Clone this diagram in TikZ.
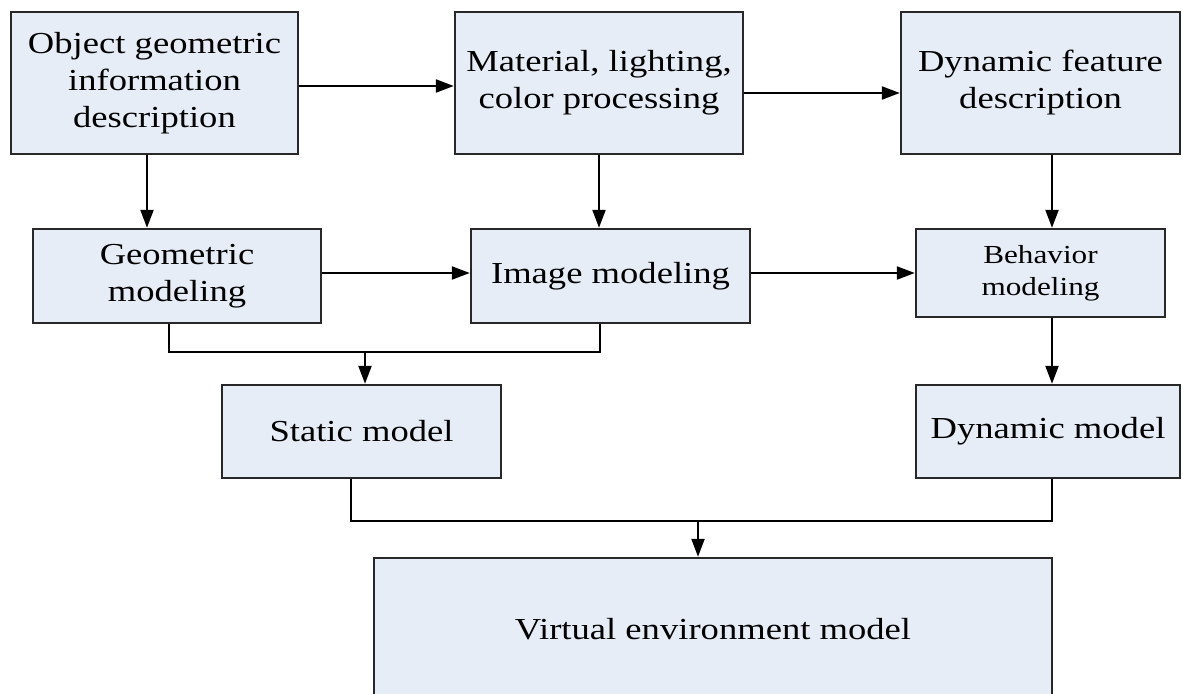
\documentclass[tikz,border=0pt]{standalone}
\usepackage{fontspec}
\setmainfont{Liberation Serif}[FakeStretch=1.2]
\usetikzlibrary{arrows.meta}
\definecolor{boxfill}{RGB}{230,237,246}
\definecolor{boxline}{RGB}{40,40,40}
\begin{document}
\begin{tikzpicture}[x=1pt,y=-1pt,
  box/.style={draw=boxline, fill=boxfill, line width=2.4pt, inner sep=0pt, align=center,
              font=\fontsize{30.5}{37}\selectfont},
  arr/.style={-{Triangle[length=18pt,width=13pt]}, line width=2.2pt, draw=black},
  ln/.style={line width=2.2pt, draw=black}]
\useasboundingbox (0,0) rectangle (1182,693);
\clip (0,0) rectangle (1182,693);
% top row
\node[box, minimum width=287pt, minimum height=142pt] (b1) at (154.5,83) {Object geometric\\information\\description};
\node[box, minimum width=288pt, minimum height=142pt] (b2) at (599,83) {Material, lighting,\\color processing};
\node[box, minimum width=279pt, minimum height=142pt] (b3) at (1040.5,83) {Dynamic feature\\description};
% second row
\node[box, minimum width=288pt, minimum height=94pt] (b4) at (177,276) {Geometric\\modeling};
\node[box, minimum width=279pt, minimum height=94pt] (b5) at (610.5,276) {Image modeling};
\node[box, minimum width=249pt, minimum height=88pt, font=\fontsize{26}{32}\selectfont] (b6) at (1040.5,273) {Behavior\\modeling};
% third row
\node[box, minimum width=279pt, minimum height=93pt] (b7) at (361.5,431.5) {Static model};
\node[box, minimum width=264pt, minimum height=93pt] (b8) at (1048,431.5) {Dynamic model};
% bottom
\node[box, minimum width=678pt, minimum height=142pt] (b9) at (713,629) {Virtual environment model};
% helper coordinates
\coordinate (xa) at (147,0);
\coordinate (xc) at (1052,0);
\coordinate (xg) at (169,0);
\coordinate (xs) at (351,0);
\coordinate (y273) at (0,273);
\coordinate (j1) at (365,352);
\coordinate (j2) at (600,352);
\coordinate (j4) at (1052,521);
\coordinate (j5) at (698,521);
% connectors
\draw[arr] ([yshift=-3pt]b1.east) -- ([yshift=-3pt]b2.west);
\draw[arr] ([yshift=-10pt]b2.east) -- ([yshift=-10pt]b3.west);
\draw[arr] (b1.south -| xa) -- (b4.north -| xa);
\draw[arr] (b2.south) -- (b2.south |- b5.north);
\draw[arr] (b3.south -| xc) -- (b6.north -| xc);
\draw[arr] (b4.east |- y273) -- (b5.west |- y273);
\draw[arr] (b5.east |- y273) -- (b6.west |- y273);
\draw[arr] (b6.south -| xc) -- (b8.north -| xc);
\draw[ln] (b4.south -| xg) |- (j2) -- (j2 |- b5.south);
\draw[arr] (j1) -- (j1 |- b7.north);
\draw[ln] (b7.south -| xs) |- (j4) -- (j4 |- b8.south);
\draw[arr] (j5) -- (j5 |- b9.north);
\end{tikzpicture}
\end{document}
